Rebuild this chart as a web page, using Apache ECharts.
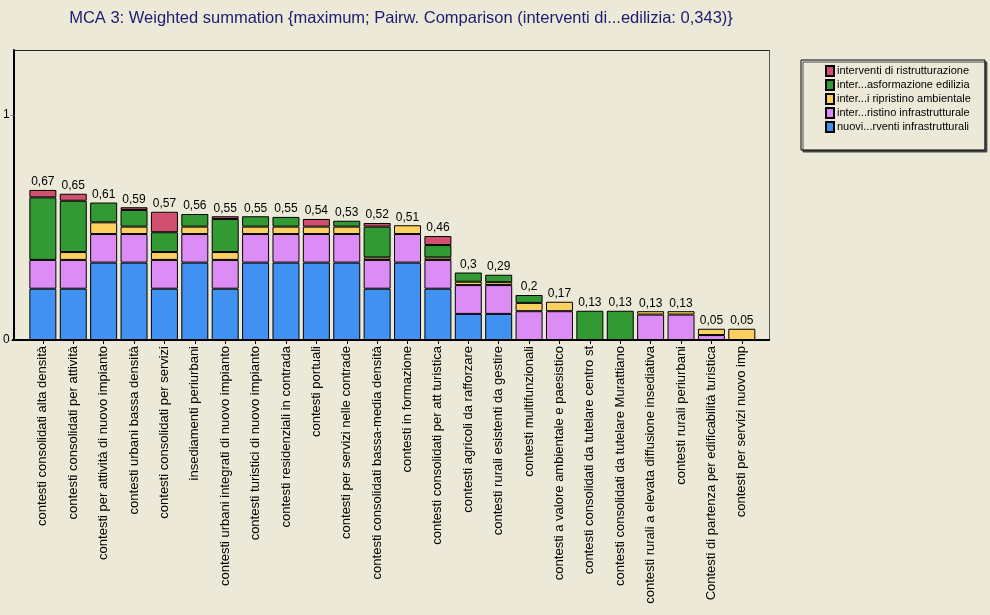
<!DOCTYPE html>
<html>
<head>
<meta charset="utf-8">
<script src="https://cdn.jsdelivr.net/npm/echarts@6/dist/echarts.min.js"></script>
<style>
html,body{margin:0;padding:0;background:#ece9d8;}
#chart{width:990px;height:615px;}
</style>
</head>
<body>
<div id="chart"></div>
<script>
const titleText = "MCA 3: Weighted summation {maximum; Pairw. Comparison (interventi di...edilizia: 0,343)}";
const categories = [
  "contesti consolidati alta densità",
  "contesti consolidati per attività",
  "contesti per attività di nuovo impianto",
  "contesti urbani bassa densità",
  "contesti consolidati per servizi",
  "insediamenti periurbani",
  "contesti urbani integrati di nuovo impianto",
  "contesti turistici di nuovo impianto",
  "contesti residenziali in contrada",
  "contesti portuali",
  "contesti per servizi nelle contrade",
  "contesti consolidati bassa-media densità",
  "contesti in formazione",
  "contesti consolidati per att turistica",
  "contesti agricoli da rafforzare",
  "contesti rurali esistenti da gestire",
  "contesti multifunzionali",
  "contesti a valore ambientale e paesistico",
  "contesti consolidati da tutelare centro st",
  "contesti consolidati da tutelare Murattiano",
  "contesti rurali a elevata diffusione insediativa",
  "contesti rurali periurbani",
  "Contesti di partenza per edificabilità turistica",
  "contesti per servizi nuovo imp"
];
const seriesNames = [
  "nuovi...rventi infrastrutturali",
  "inter...ristino infrastrutturale",
  "inter...i ripristino ambientale",
  "inter...asformazione edilizia",
  "interventi di ristrutturazione"
];
const blueVals   = [.228,.228,.344,.344,.228,.344,.228,.344,.344,.344,.344,.228,.344,.228,.116,.116,0,0,0,0,0,0,0,0];
const violetVals = [.128,.128,.127,.127,.128,.127,.128,.127,.127,.127,.127,.128,.127,.128,.128,.128,.128,.128,0,0,.113,.113,.022,0];
const yellowVals = [0,.035,.052,.033,.035,.033,.035,.033,.033,.033,.033,.011,.039,.011,.015,.013,.037,.042,0,0,.015,.015,.028,.05];
const greenVals  = [.278,.228,.088,.074,.088,.056,.147,.046,.043,0,.026,.137,0,.055,.041,.033,.035,0,.13,.13,0,0,0,0];
const redVals    = [.033,.031,0,.012,.091,0,.012,0,0,.034,0,.016,0,.04,0,0,0,0,0,0,0,0,0,0];
const yTicks = [0, 1];

const colors = ["#4191f2", "#dc8cf5", "#fcd15f", "#339933", "#d2506f"];
const valueSets = [blueVals, violetVals, yellowVals, greenVals, redVals];
const totals = categories.map((c, i) => Math.round(valueSets.reduce((s, a) => s + a[i], 0) * 1000) / 1000);
const fmtTotal = v => String(Math.round(v * 100) / 100).replace('.', ',');

const FONT = "Liberation Sans";
const chart = echarts.init(document.getElementById('chart'), null, {renderer: 'canvas'});

const series = valueSets.map((vals, k) => ({
  name: seriesNames[k],
  type: 'bar',
  stack: 'tot',
  barWidth: 27,
  data: vals.map(v => v === 0 ? '-' : v),
  itemStyle: {color: colors[k], borderColor: '#000', borderWidth: 1},
  silent: true
}));
series.push({
  name: 'totale',
  type: 'bar',
  barWidth: 27,
  barGap: '-100%',
  data: totals,
  itemStyle: {color: 'rgba(0,0,0,0)', borderWidth: 0},
  silent: true,
  z: 1,
  label: {
    show: true, position: 'top', distance: 2,
    color: '#000', fontFamily: FONT, fontSize: 12,
    formatter: p => fmtTotal(totals[p.dataIndex])
  }
});

chart.setOption({
  animation: false,
  backgroundColor: '#ece9d8',
  title: {
    text: titleText,
    left: 396, top: 5, textAlign: 'center',
    textStyle: {color: '#1c1c72', fontFamily: FONT, fontSize: 16.5, fontWeight: 'normal'}
  },
  legend: {
    orient: 'vertical',
    left: 801, top: 60,
    data: seriesNames.slice().reverse(),
    itemWidth: 8, itemHeight: 10, itemGap: 2,
    padding: [5, 14, 17, 24],
    backgroundColor: '#ece9d8',
    borderColor: '#000', borderWidth: 1,
    shadowColor: 'rgba(60,60,60,0.9)', shadowOffsetX: 2, shadowOffsetY: 2, shadowBlur: 0,
    textStyle: {color: '#000', fontFamily: FONT, fontSize: 11, padding: [0, 0, 0, -2]},
    icon: 'rect'
  },
  grid: {left: 27, right: 233, top: 50, bottom: 275, containLabel: false},
  xAxis: {
    type: 'category',
    data: categories,
    axisLine: {show: false},
    axisTick: {show: true, alignWithLabel: true, length: 4, lineStyle: {color: '#000'}},
    axisLabel: {interval: 0, rotate: 90, margin: 6, color: '#000', fontFamily: FONT, fontSize: 13}
  },
  yAxis: {
    type: 'value',
    min: yTicks[0], max: 1.289, interval: yTicks[1] - yTicks[0],
    offset: 14,
    axisLine: {show: true, lineStyle: {color: '#000', width: 2}},
    axisTick: {show: true, length: 3, lineStyle: {color: '#888'}},
    axisLabel: {showMaxLabel: false, margin: 4, color: '#000', fontFamily: FONT, fontSize: 12},
    splitLine: {show: false}
  },
  graphic: [
    {type: 'line', shape: {x1: 13, y1: 50.5, x2: 769, y2: 50.5}, style: {stroke: '#222', lineWidth: 1}, silent: true},
    {type: 'line', shape: {x1: 769.5, y1: 50, x2: 769.5, y2: 340}, style: {stroke: '#555', lineWidth: 1}, silent: true},
    {type: 'line', shape: {x1: 12, y1: 340, x2: 770, y2: 340}, style: {stroke: '#000', lineWidth: 2}, silent: true, z: 100}
  ],
  series: series
});
</script>
</body>
</html>
